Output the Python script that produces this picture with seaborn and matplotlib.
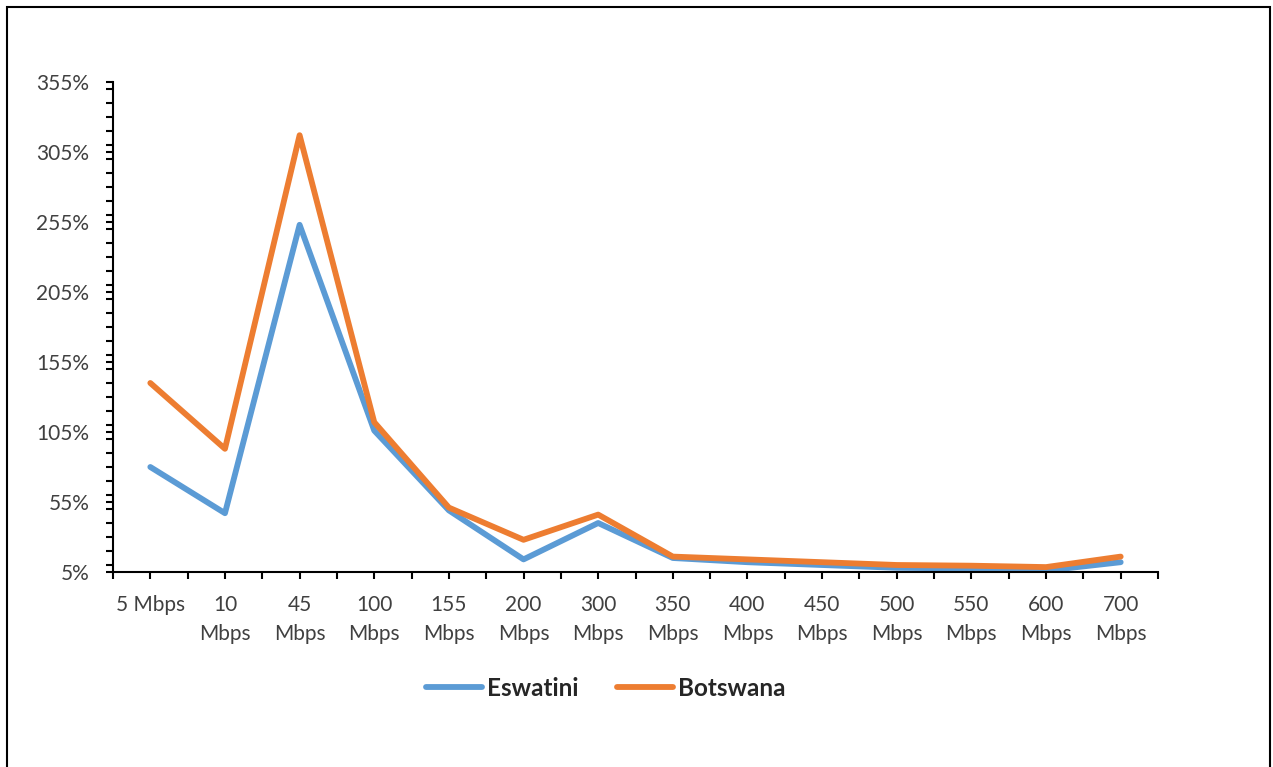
import seaborn as sns
import pandas as pd
import matplotlib.pyplot as plt
from matplotlib.patches import Rectangle
from matplotlib.ticker import MultipleLocator, FixedLocator

speeds = ["5 Mbps", "10\nMbps", "45\nMbps", "100\nMbps", "155\nMbps", "200\nMbps", "300\nMbps",
          "350\nMbps", "400\nMbps", "450\nMbps", "500\nMbps", "550\nMbps", "600\nMbps", "700\nMbps"]
eswatini = [80, 47, 253, 106, 49, 14, 40, 15, 12, 10, 8, 7.5, 6, 12]
botswana = [140, 93, 317, 112, 51, 28, 46, 16, 14, 12, 10, 9.5, 8.5, 16]

pos = list(range(len(speeds)))
df = pd.DataFrame({
    "pos": pos * 2,
    "value": eswatini + botswana,
    "country": ["Eswatini"] * len(pos) + ["Botswana"] * len(pos),
})

sns.set_style("white")
plt.rcParams['font.family'] = ['Lato', 'DejaVu Sans']

fig = plt.figure(figsize=(12.73, 7.67), dpi=100)
ax = fig.add_axes([113 / 1273, 195 / 767, 1045 / 1273, 490 / 767])

palette = {"Eswatini": "#5B9BD5", "Botswana": "#ED7D31"}
sns.lineplot(data=df, x="pos", y="value", hue="country", palette=palette,
             linewidth=4.2, sort=False, ax=ax, legend=False)

ax.set_xlim(-0.5, len(speeds) - 0.5)
ax.set_ylim(5, 355)
ax.set_yticks([5 + 50 * i for i in range(8)])
ax.set_yticklabels([f"{5 + 50 * i}%" for i in range(8)])
ax.yaxis.set_minor_locator(MultipleLocator(10))
ax.set_xticks(pos)
ax.set_xticklabels(speeds, linespacing=1.55, va="top")
ax.xaxis.set_minor_locator(FixedLocator([p - 0.5 for p in range(len(speeds) + 1)]))

for side in ["top", "right"]:
    ax.spines[side].set_visible(False)
for side in ["left", "bottom"]:
    ax.spines[side].set_color("black")
    ax.spines[side].set_linewidth(1.5)

ax.tick_params(axis="both", which="both", direction="out", length=5, width=1.5,
               color="black", labelsize=15, labelcolor="#404040", bottom=True, left=True)
ax.tick_params(axis="y", which="major", pad=12)
ax.tick_params(axis="x", which="major", pad=11.5)
ax.set_xlabel("")
ax.set_ylabel("")
ax.grid(False)

handles = [plt.Line2D([], [], color=palette[c], linewidth=4.2) for c in ["Eswatini", "Botswana"]]
fig.legend(handles, ["Eswatini", "Botswana"], loc="center", bbox_to_anchor=(606 / 1273, 1 - 688 / 767),
           ncol=2, frameon=False, prop={"weight": "bold", "size": 17.5}, handlelength=2.3,
           handletextpad=0.2, columnspacing=1.6)

fig.patches.append(Rectangle((7 / 1273, -0.02), 1263 / 1273, 1 - 7 / 767 + 0.02,
                             transform=fig.transFigure, fill=False, edgecolor="black", linewidth=1.5))

fig.savefig("out.png", dpi=100)
